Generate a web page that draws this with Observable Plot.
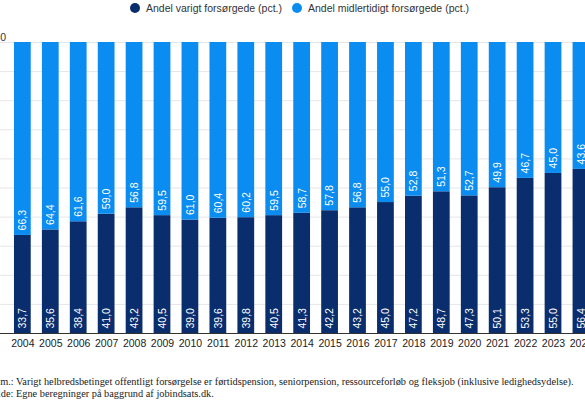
<!DOCTYPE html>
<html>
<head>
<meta charset="utf-8">
<script src="https://cdn.jsdelivr.net/npm/d3@7"></script>
<script src="https://cdn.jsdelivr.net/npm/@observablehq/plot@0.6"></script>
<style>
  html, body { margin: 0; padding: 0; background: #fff; }
  body { width: 585px; height: 406px; overflow: hidden; position: relative; font-family: "Liberation Sans", Arial, sans-serif; }
  #legend { position: absolute; top: 2px; left: 130px; display: flex; align-items: center; font-size: 10.5px; color: #333; white-space: nowrap; height: 12px; }
  #legend .item { display: flex; align-items: center; margin-right: 10px; }
  #legend .dot { width: 10px; height: 10px; border-radius: 50%; margin-right: 6px; }
  #chart { position: absolute; top: 0; left: -40px; width: 680px; }
  #chart svg { max-width: none; }
  .note { position: absolute; left: -12.5px; font-family: "Liberation Serif", "Times New Roman", serif; font-size: 10.35px; color: #222; white-space: nowrap; line-height: 12px; }
</style>
</head>
<body>
<div id="legend"></div>
<div id="chart"></div>
<div class="note" id="note1" style="top:376px"></div>
<div class="note" id="note2" style="top:388px"></div>
<script>
const years = ["2004","2005","2006","2007","2008","2009","2010","2011","2012","2013","2014","2015","2016","2017","2018","2019","2020","2021","2022","2023","2024"];
const varigt = [33.7,35.6,38.4,41.0,43.2,40.5,39.0,39.6,39.8,40.5,41.3,42.2,43.2,45.0,47.2,48.7,47.3,50.1,53.3,55.0,56.4];
const midlertidigt = [66.3,64.4,61.6,59.0,56.8,59.5,61.0,60.4,60.2,59.5,58.7,57.8,56.8,55.0,52.8,51.3,52.7,49.9,46.7,45.0,43.6];
const seriesNames = ["Andel varigt forsørgede (pct.)", "Andel midlertidigt forsørgede (pct.)"];
const seriesColors = ["#0a2d6e", "#0b8cf0"];
const yTicks = [0,10,20,30,40,50,60,70,80,90,100];
const yLabelTicks = [100];
const noteText = "Anm.: Varigt helbredsbetinget offentligt forsørgelse er førtidspension, seniorpension, ressourceforløb og fleksjob (inklusive ledighedsydelse).";
const sourceText = "Kilde: Egne beregninger på baggrund af jobindsats.dk.";

const rows = [];
years.forEach((y, i) => {
  rows.push({year: y, series: seriesNames[0], value: varigt[i]});
  rows.push({year: y, series: seriesNames[1], value: midlertidigt[i]});
});
const labelsDark = years.map((y, i) => ({year: y, pos: 0, text: varigt[i].toFixed(1).replace(".", ",")}));
const labelsLight = years.map((y, i) => ({year: y, pos: varigt[i], text: midlertidigt[i].toFixed(1).replace(".", ",")}));

const plot = Plot.plot({
  width: 680,
  height: 360,
  marginTop: 42,
  marginBottom: 27,
  marginLeft: 40,
  marginRight: 20,
  style: {fontFamily: "Liberation Sans, Arial, sans-serif", fontSize: "10.5px", background: "transparent", maxWidth: "none"},
  x: {domain: years, range: [42.8, 640.5], padding: 0.4, round: false, label: null},
  y: {domain: [0, 100], label: null},
  color: {domain: seriesNames, range: seriesColors},
  marks: [
    Plot.gridY(yTicks, {stroke: "#e6e6e6", strokeOpacity: 1}),
    Plot.barY(rows, {x: "year", y: "value", fill: "series", order: seriesNames}),
    Plot.ruleY([0], {stroke: "#333", strokeWidth: 1}),
    Plot.text(labelsDark, {x: "year", y: "pos", text: "text", rotate: -90, textAnchor: "start", dy: -5, fill: "white", fontSize: 10.5}),
    Plot.text(labelsLight, {x: "year", y: "pos", text: "text", rotate: -90, textAnchor: "start", dy: -5, fill: "white", fontSize: 10.5}),
    Plot.axisX({tickSize: 0, tickPadding: 6, label: null, fill: "#222", fontSize: 10.5}),
    Plot.axisY(yLabelTicks, {tickSize: 0, tickPadding: -5.5, dy: -5, label: null, fill: "#333", fontSize: 10.5})
  ]
});
document.getElementById("chart").appendChild(plot);

const legend = document.getElementById("legend");
seriesNames.forEach((name, i) => {
  const item = document.createElement("div");
  item.className = "item";
  const dot = document.createElement("span");
  dot.className = "dot";
  dot.style.background = seriesColors[i];
  const label = document.createElement("span");
  label.textContent = name;
  item.appendChild(dot);
  item.appendChild(label);
  legend.appendChild(item);
});
document.getElementById("note1").textContent = noteText;
document.getElementById("note2").textContent = sourceText;
</script>
</body>
</html>
